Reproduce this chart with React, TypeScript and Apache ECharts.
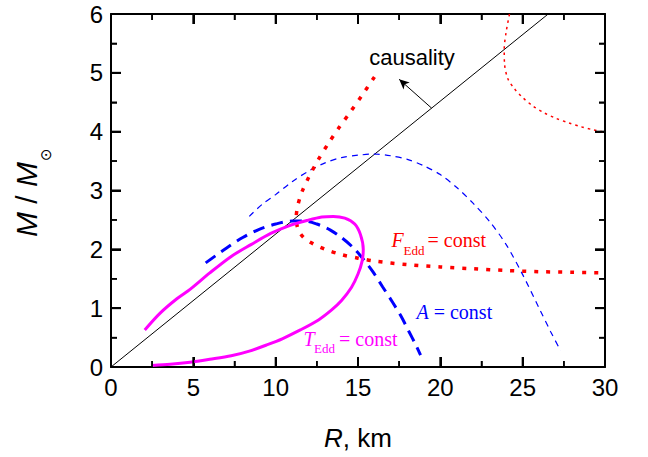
import React, { useEffect, useRef } from "react";
import * as echarts from "echarts";

// ---- data (R in km, M in solar masses) ----
const xTickValues = [0, 5, 10, 15, 20, 25, 30];
const xMinorTickValues = [2.5, 7.5, 12.5, 17.5, 22.5, 27.5];
const yTickValues = [0, 1, 2, 3, 4, 5, 6];
const yMinorTickValues = [0.5, 1.5, 2.5, 3.5, 4.5, 5.5];

const causality = [[0, 0], [26.55, 6]];
const causalityArrow = [[19.47, 4.4], [17.5, 4.89]];

const tEdd = [
  [2.05, 0.63], [3.0, 0.92], [4.0, 1.16], [4.8, 1.32], [6.0, 1.6], [7.3, 1.88],
  [8.5, 2.08], [9.7, 2.27], [10.8, 2.4], [11.9, 2.49], [12.8, 2.55], [13.5, 2.56],
  [14.2, 2.53], [14.8, 2.43], [15.15, 2.25], [15.32, 2.0], [15.25, 1.8], [15.0, 1.58],
  [14.6, 1.35], [14.0, 1.13], [13.4, 0.97], [12.6, 0.8], [11.5, 0.63], [10.4, 0.48],
  [9.5, 0.38], [8.4, 0.27], [7.3, 0.19], [6.0, 0.13], [4.8, 0.08], [3.6, 0.045], [2.5, 0.025],
];

const aThick = [
  [5.75, 1.77], [7.0, 2.02], [8.0, 2.2], [9.0, 2.34], [10.0, 2.43], [11.0, 2.48],
  [11.8, 2.48], [12.5, 2.43], [13.3, 2.33], [14.0, 2.2], [14.7, 2.03], [15.3, 1.84],
  [15.9, 1.62], [16.5, 1.36], [17.1, 1.1], [17.6, 0.87], [18.1, 0.6], [18.5, 0.38], [18.8, 0.2],
];

const aThin = [
  [8.4, 2.56], [9.2, 2.77], [10.0, 2.93], [11.0, 3.15], [12.0, 3.33], [13.0, 3.47],
  [14.0, 3.56], [15.0, 3.6], [16.0, 3.62], [17.0, 3.59], [18.0, 3.53], [19.0, 3.42],
  [20.0, 3.27], [21.0, 3.05], [22.0, 2.78], [23.0, 2.47], [24.0, 2.08], [25.0, 1.57],
  [26.0, 1.0], [26.7, 0.6], [27.3, 0.28],
];

const fEddThick = [
  [16.0, 4.93], [15.2, 4.6], [14.5, 4.32], [13.9, 4.09], [13.2, 3.8], [12.6, 3.53],
  [12.0, 3.22], [11.6, 2.98], [11.35, 2.75], [11.25, 2.55], [11.35, 2.35], [11.7, 2.2],
  [12.3, 2.09], [13.0, 2.0], [14.0, 1.91], [15.0, 1.85], [16.0, 1.8], [18.0, 1.74],
  [20.0, 1.7], [22.0, 1.67], [24.0, 1.64], [26.0, 1.62], [28.0, 1.61], [30.0, 1.6],
];

const fEddThin = [
  [24.2, 6.0], [24.0, 5.7], [23.88, 5.4], [23.9, 5.15], [24.1, 4.9], [24.5, 4.73],
  [25.0, 4.58], [25.6, 4.44], [26.3, 4.32], [27.0, 4.23], [27.8, 4.15], [28.6, 4.08],
  [29.3, 4.03], [30.0, 3.99],
];

const SANS = "Liberation Sans, Arial, sans-serif";
const SERIF = "Liberation Serif, Times New Roman, serif";
const MAJOR_LEN = 10;
const MINOR_LEN = 6;

function lineSeries(name: string, data: number[][], color: string, width: number, type: any, smooth: number | boolean) {
  return {
    name,
    type: "line",
    data,
    symbol: "none",
    smooth,
    lineStyle: { color, width, type },
  };
}

export default function App() {
  const ref = useRef<HTMLDivElement>(null);

  useEffect(() => {
    if (!ref.current) return;
    const chart = echarts.init(ref.current, undefined, { renderer: "svg" });
    const xMin = xTickValues[0];
    const xMax = xTickValues[xTickValues.length - 1];
    const yMin = yTickValues[0];
    const yMax = yTickValues[yTickValues.length - 1];

    const line = { show: true, onZero: false, lineStyle: { color: "#000", width: 2 } };
    const tick = { show: true, inside: true, length: MAJOR_LEN, lineStyle: { color: "#000", width: 2 } };
    const minor = { show: true, splitNumber: 2, length: MINOR_LEN, lineStyle: { color: "#000", width: 1.5 } };

    const option: any = {
      animation: false,
      grid: { left: 111, right: 43, top: 14, bottom: 90 },
      xAxis: [
        {
          type: "value", min: xMin, max: xMax, interval: 5,
          axisLine: line, axisTick: tick, minorTick: minor,
          splitLine: { show: false }, minorSplitLine: { show: false },
          axisLabel: { fontSize: 24, color: "#000" },
        },
        {
          type: "value", position: "top", min: xMin, max: xMax, interval: 5,
          axisLine: line, axisTick: tick, minorTick: minor,
          splitLine: { show: false }, minorSplitLine: { show: false },
          axisLabel: { show: false },
        },
      ],
      yAxis: [
        {
          type: "value", min: yMin, max: yMax, interval: 1,
          axisLine: line, axisTick: tick, minorTick: minor,
          splitLine: { show: false }, minorSplitLine: { show: false },
          axisLabel: { fontSize: 24, color: "#000" },
        },
        {
          type: "value", position: "right", min: yMin, max: yMax, interval: 1,
          axisLine: line, axisTick: tick, minorTick: minor,
          splitLine: { show: false }, minorSplitLine: { show: false },
          axisLabel: { show: false },
        },
      ],
      series: [
        {
          ...lineSeries("causality", causality, "#000", 1, "solid", false),
          markLine: {
            silent: true,
            symbol: ["none", "arrow"],
            symbolSize: [7, 10],
            label: { show: false },
            lineStyle: { color: "#000", width: 1, type: "solid" },
            data: [[{ coord: causalityArrow[0] }, { coord: causalityArrow[1] }]],
          },
        },
        lineSeries("A thin", aThin, "#0000ff", 1.2, [6, 5], 0.3),
        lineSeries("F thin", fEddThin, "#ff0000", 1.5, [2.5, 4], 0.3),
        lineSeries("F thick", fEddThick, "#ff0000", 3.5, [4, 8], 0.3),
        lineSeries("A thick", aThick, "#0000ff", 3, [12, 7], 0.3),
        lineSeries("T", tEdd, "#ff00ff", 3, "solid", 0.3),
      ],
    };

    const texts: any[] = [
      {
        type: "text",
        x: 412,
        y: 57,
        style: { text: "causality", fill: "#000", fontSize: 22, fontFamily: SANS, align: "center", verticalAlign: "middle" },
      },
      // F_Edd = const
      { type: "text", x: 391.5, y: 239.5, style: { text: "F", fill: "#ff0000", fontSize: 20, fontStyle: "italic", fontFamily: SERIF, align: "left", verticalAlign: "middle" } },
      { type: "text", x: 403.5, y: 250, style: { text: "Edd", fill: "#ff0000", fontSize: 13, fontFamily: SERIF, align: "left", verticalAlign: "middle" } },
      { type: "text", x: 427.5, y: 239.5, style: { text: "= const", fill: "#ff0000", fontSize: 20, fontFamily: SERIF, align: "left", verticalAlign: "middle" } },
      // A = const
      {
        type: "text",
        x: 416.5,
        y: 312,
        style: {
          text: "{i|A} = const",
          fill: "#0000ff",
          fontSize: 20,
          fontFamily: SERIF,
          align: "left",
          verticalAlign: "middle",
          rich: { i: { fontStyle: "italic", fontSize: 20, fontFamily: SERIF, fill: "#0000ff" } },
        },
      },
      // T_Edd = const
      { type: "text", x: 303.5, y: 339, style: { text: "T", fill: "#ff00ff", fontSize: 20, fontStyle: "italic", fontFamily: SERIF, align: "left", verticalAlign: "middle" } },
      { type: "text", x: 314, y: 348.5, style: { text: "Edd", fill: "#ff00ff", fontSize: 13, fontFamily: SERIF, align: "left", verticalAlign: "middle" } },
      { type: "text", x: 339, y: 339, style: { text: "= const", fill: "#ff00ff", fontSize: 20, fontFamily: SERIF, align: "left", verticalAlign: "middle" } },
      // x axis title
      {
        type: "text",
        x: 358,
        y: 438,
        style: {
          text: "{i|R}, km",
          fill: "#000",
          fontSize: 26,
          fontFamily: SANS,
          align: "center",
          verticalAlign: "middle",
          rich: { i: { fontStyle: "italic", fontSize: 26, fontFamily: SANS, fill: "#000" } },
        },
      },
      // y axis title (rotated)
      {
        type: "group",
        x: 37,
        y: 237,
        rotation: Math.PI / 2,
        children: [
          {
            type: "text",
            x: 0,
            y: -10.5,
            style: {
              text: "{i|M} / {i|M}",
              fill: "#000",
              fontSize: 30,
              fontFamily: SANS,
              align: "left",
              verticalAlign: "middle",
              rich: { i: { fontStyle: "italic", fontSize: 30, fontFamily: SANS, fill: "#000" } },
            },
          },
          {
            type: "text",
            x: 76,
            y: 9,
            style: { text: "\u2299", fill: "#000", fontSize: 15, fontFamily: "DejaVu Sans, sans-serif", align: "left", verticalAlign: "middle" },
          },
        ],
      },
    ];

    chart.setOption(option);

    // tick marks on all four sides, placed through the grid's own scales
    const tickLines: any[] = [];
    try {
      const toPx = (p: number[]) => chart.convertToPixel({ gridIndex: 0 } as any, p) as unknown as number[];
      const addX = (v: number, len: number, w: number) => {
        const b = toPx([v, yMin]);
        const t = toPx([v, yMax]);
        if (!b || !t) return;
        tickLines.push({ type: "line", silent: true, z: 100, shape: { x1: b[0], y1: b[1], x2: b[0], y2: b[1] - len }, style: { stroke: "#000", lineWidth: w } });
        tickLines.push({ type: "line", silent: true, z: 100, shape: { x1: t[0], y1: t[1], x2: t[0], y2: t[1] + len }, style: { stroke: "#000", lineWidth: w } });
      };
      const addY = (v: number, len: number, w: number) => {
        const l = toPx([xMin, v]);
        const r = toPx([xMax, v]);
        if (!l || !r) return;
        tickLines.push({ type: "line", silent: true, z: 100, shape: { x1: l[0], y1: l[1], x2: l[0] + len, y2: l[1] }, style: { stroke: "#000", lineWidth: w } });
        tickLines.push({ type: "line", silent: true, z: 100, shape: { x1: r[0], y1: r[1], x2: r[0] - len, y2: r[1] }, style: { stroke: "#000", lineWidth: w } });
      };
      xTickValues.forEach((v) => addX(v, MAJOR_LEN, 2));
      xMinorTickValues.forEach((v) => addX(v, MINOR_LEN, 1.5));
      yTickValues.forEach((v) => addY(v, MAJOR_LEN, 2));
      yMinorTickValues.forEach((v) => addY(v, MINOR_LEN, 1.5));
    } catch (e) {
      // keep the chart even if tick placement fails
    }

    chart.setOption({ graphic: [...texts, ...tickLines] });
    return () => chart.dispose();
  }, []);

  return <div ref={ref} style={{ position: "absolute", left: 0, top: 0, width: 648, height: 457 }} />;
}
